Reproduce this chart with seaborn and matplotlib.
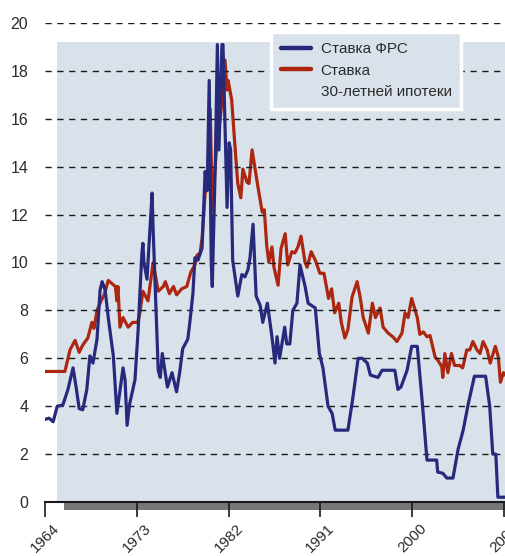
"""
Fed funds rate vs 30-year mortgage rate, 1964-2009
"""

# ========== SECTION 1: CONFIGURATION ==========
import pandas as pd
import matplotlib.pyplot as plt
import seaborn as sns
from matplotlib.lines import Line2D
from matplotlib.patches import Rectangle
from matplotlib.transforms import blended_transform_factory

sns.set_theme(style="white")
plt.rcParams['font.family'] = ['Liberation Sans', 'DejaVu Sans']

BG_COLOR = '#d9e2ea'
FED_COLOR = '#272a7c'
MORT_COLOR = '#ac2610'
TEXT_COLOR = '#2b2b2b'

# ========== SECTION 2: DATA ==========
fed_years = [
    1964.0, 1964.4, 1964.8, 1965.2, 1965.75, 1966.25, 1966.75, 1967.05, 1967.35, 1967.7,
    1968.1, 1968.4, 1968.7, 1969.1, 1969.4, 1969.6, 1969.9, 1970.2, 1970.7, 1971.05,
    1971.65, 1971.85, 1972.05, 1972.3, 1972.82, 1973.12, 1973.5, 1973.6, 1973.7, 1974.0,
    1974.5, 1974.6, 1975.1, 1975.3, 1975.5, 1976.0, 1976.45, 1976.9, 1977.2, 1977.5,
    1978.0, 1978.2, 1978.5, 1978.7, 1979.0, 1979.4, 1979.7, 1979.9, 1980.1, 1980.3,
    1980.4, 1980.7, 1980.9, 1981.05, 1981.35, 1981.45, 1981.85, 1982.05, 1982.2, 1982.4,
    1982.9, 1983.3, 1983.6, 1983.9, 1984.1, 1984.4, 1984.7, 1985.1, 1985.35, 1985.8,
    1986.25, 1986.55, 1986.75, 1987.0, 1987.5, 1987.7, 1988.0, 1988.3, 1988.7, 1989.0,
    1989.5, 1989.8, 1990.5, 1990.9, 1991.25, 1991.75, 1992.15, 1992.45, 1993.7, 1994.2,
    1994.7, 1995.1, 1995.6, 1995.9, 1996.65, 1997.05, 1998.3, 1998.6, 1998.9, 1999.5,
    1999.95, 2000.5, 2001.0, 2001.45, 2002.4, 2002.5, 2003.0, 2003.4, 2004.0, 2004.5,
    2005.0, 2005.5, 2006.1, 2007.2, 2007.6, 2007.9, 2008.2, 2008.4, 2009.1,
]
fed_rate = [
    3.45, 3.5, 3.35, 4.0, 4.05, 4.7, 5.6, 4.8, 3.9, 3.85,
    4.7, 6.1, 5.8, 6.8, 8.85, 9.2, 8.85, 7.7, 6.1, 3.7,
    5.6, 5.1, 3.2, 4.1, 5.1, 7.1, 10.4, 10.8, 10.0, 9.3,
    12.9, 11.4, 5.5, 5.2, 6.2, 4.8, 5.4, 4.6, 5.4, 6.4,
    6.8, 7.5, 8.7, 10.2, 10.1, 10.6, 13.8, 13.0, 17.6, 10.0,
    9.0, 14.2, 19.1, 14.7, 19.1, 19.1, 12.3, 15.0, 14.7, 10.1,
    8.6, 9.5, 9.4, 9.7, 10.2, 11.6, 8.6, 8.2, 7.5, 8.3,
    6.9, 5.8, 6.9, 6.0, 7.3, 6.6, 6.6, 8.0, 8.3, 9.9,
    9.0, 8.3, 8.1, 6.2, 5.6, 4.0, 3.7, 3.0, 3.0, 4.4,
    6.0, 6.0, 5.8, 5.3, 5.2, 5.5, 5.5, 4.7, 4.8, 5.5,
    6.5, 6.5, 4.1, 1.75, 1.75, 1.25, 1.2, 1.0, 1.0, 2.2,
    3.0, 4.1, 5.25, 5.25, 4.0, 2.0, 2.0, 0.2, 0.2,
]

mort_years = [
    1964.0, 1965.95, 1966.45, 1966.95, 1967.35, 1967.7, 1968.2, 1968.6, 1968.8, 1969.1,
    1969.5, 1969.8, 1970.2, 1970.9, 1971.05, 1971.15, 1971.35, 1971.65, 1972.15, 1972.6,
    1973.1, 1973.3, 1973.6, 1974.1, 1974.6, 1975.1, 1975.6, 1975.8, 1976.2, 1976.6,
    1976.9, 1977.4, 1977.9, 1978.3, 1978.7, 1978.9, 1979.2, 1979.4, 1979.7, 1979.95,
    1980.2, 1980.4, 1980.8, 1981.2, 1981.45, 1981.65, 1981.85, 1981.95, 1982.3, 1982.6,
    1982.9, 1983.2, 1983.4, 1983.8, 1984.0, 1984.3, 1984.6, 1984.9, 1985.3, 1985.5,
    1985.75, 1985.95, 1986.25, 1986.45, 1986.85, 1987.15, 1987.55, 1987.8, 1988.2, 1988.5,
    1988.8, 1989.1, 1989.5, 1989.7, 1990.1, 1990.5, 1990.95, 1991.35, 1991.8, 1992.1,
    1992.4, 1992.8, 1993.05, 1993.4, 1993.7, 1994.1, 1994.6, 1994.9, 1995.2, 1995.7,
    1996.1, 1996.4, 1996.85, 1997.15, 1997.65, 1998.1, 1998.5, 1999.0, 1999.3, 1999.6,
    1999.95, 2000.5, 2000.75, 2001.1, 2001.45, 2001.75, 2002.25, 2002.55, 2002.9, 2003.0,
    2003.2, 2003.5, 2003.85, 2004.15, 2004.65, 2004.95, 2005.35, 2005.65, 2005.95, 2006.35,
    2006.65, 2006.95, 2007.35, 2007.65, 2008.15, 2008.45, 2008.65, 2008.95, 2009.1,
]
mort_rate = [
    5.45, 5.45, 6.35, 6.75, 6.25, 6.55, 6.85, 7.5, 7.25, 8.0,
    8.4, 8.65, 9.25, 9.0, 8.4, 9.0, 7.3, 7.7, 7.3, 7.5,
    7.5, 7.9, 8.8, 8.4, 10.0, 8.8, 9.0, 9.2, 8.7, 9.0,
    8.65, 8.9, 9.0, 9.6, 9.9, 10.3, 10.4, 11.0, 12.9, 13.3,
    16.4, 12.2, 14.7, 16.1, 17.2, 18.45, 17.2, 17.6, 16.8, 15.0,
    13.3, 12.7, 13.9, 13.35, 13.3, 14.7, 13.9, 13.1, 12.1, 12.2,
    10.65, 10.0, 10.65, 9.8, 9.05, 10.6, 11.2, 9.9, 10.45, 10.4,
    10.65, 11.1, 10.0, 9.8, 10.45, 10.1, 9.55, 9.55, 8.5, 8.9,
    7.9, 8.3, 7.5, 6.85, 7.2, 8.55, 9.2, 8.55, 7.7, 7.05,
    8.3, 7.7, 8.1, 7.3, 7.05, 6.9, 6.7, 7.05, 7.9, 7.7,
    8.5, 7.7, 7.0, 7.1, 6.9, 6.95, 6.05, 5.9, 5.65, 5.2,
    6.2, 5.4, 6.2, 5.7, 5.7, 5.6, 6.35, 6.35, 6.7, 6.35,
    6.2, 6.7, 6.35, 5.8, 6.5, 6.05, 5.0, 5.4, 5.3,
]

year_ticks = [1964, 1973, 1982, 1991, 2000, 2009]
rate_ticks = list(range(0, 21, 2))
fed_label = 'Ставка ФРС'
mort_label = ['Ставка', '30-летней ипотеки']

# ========== SECTION 3: PLOT ==========
fed_df = pd.DataFrame({'year': fed_years, 'rate': fed_rate})
mort_df = pd.DataFrame({'year': mort_years, 'rate': mort_rate})

fig = plt.figure(figsize=(5.05, 5.56), dpi=100)
ax = fig.add_axes([45 / 505, 54 / 556, 460 / 505, 479 / 556])
ax.set_facecolor('white')

# shaded panel behind the data
ax.add_patch(Rectangle((1965.2, 0), 50, 19.2, facecolor=BG_COLOR,
                       edgecolor='none', zorder=0))

sns.lineplot(data=fed_df, x='year', y='rate', ax=ax, color=FED_COLOR,
             linewidth=2.3, zorder=3, estimator=None, sort=False)
sns.lineplot(data=mort_df, x='year', y='rate', ax=ax, color=MORT_COLOR,
             linewidth=2.3, zorder=2, estimator=None, sort=False)

ax.set_xlim(1964, 2009.1)
ax.set_ylim(0, 20)
ax.set_xlabel('')
ax.set_ylabel('')

# dashed gridlines
ax.yaxis.grid(True, color='#1a1a1a', linestyle=(0, (4.5, 4)), linewidth=1.0)
ax.xaxis.grid(False)
ax.set_axisbelow(False)
for gl in ax.get_ygridlines():
    gl.set_zorder(1)

ax.set_yticks(rate_ticks)
ax.set_yticklabels([str(v) for v in rate_ticks])
ax.set_xticks(year_ticks)
ax.set_xticklabels([str(v) for v in year_ticks], rotation=45)
ax.tick_params(axis='y', length=0, pad=12, labelsize=11.5, labelcolor=TEXT_COLOR)
ax.tick_params(axis='x', bottom=True, direction='out', length=11, width=1.2,
               color='#1a1a1a', pad=3, labelsize=11, labelcolor=TEXT_COLOR)

for side in ['top', 'right', 'left']:
    ax.spines[side].set_visible(False)
ax.spines['bottom'].set_color('#1a1a1a')
ax.spines['bottom'].set_linewidth(1.5)

# grey band under the axis line
trans = blended_transform_factory(ax.transData, ax.transAxes)
ax.add_patch(Rectangle((1965.85, -0.017), 50, 0.014, transform=trans,
                       facecolor='#777777', edgecolor='none', clip_on=False))

# ------ Legend ------
handles = [
    Line2D([], [], color=FED_COLOR, linewidth=3.2),
    Line2D([], [], color=MORT_COLOR, linewidth=3.2),
    Line2D([], [], color='none'),
]
leg = ax.legend(handles, [fed_label] + mort_label, loc='upper left',
                bbox_to_anchor=(0.491, 0.981), frameon=True, fancybox=False,
                fontsize=11, handlelength=2.0, handletextpad=0.6,
                labelspacing=0.5, borderpad=0.65, borderaxespad=0)
leg.get_frame().set_facecolor(BG_COLOR)
leg.get_frame().set_edgecolor('white')
leg.get_frame().set_linewidth(2.5)
leg.get_frame().set_alpha(1)
for t in leg.get_texts():
    t.set_color(TEXT_COLOR)

fig.savefig('out.png', dpi=100)
